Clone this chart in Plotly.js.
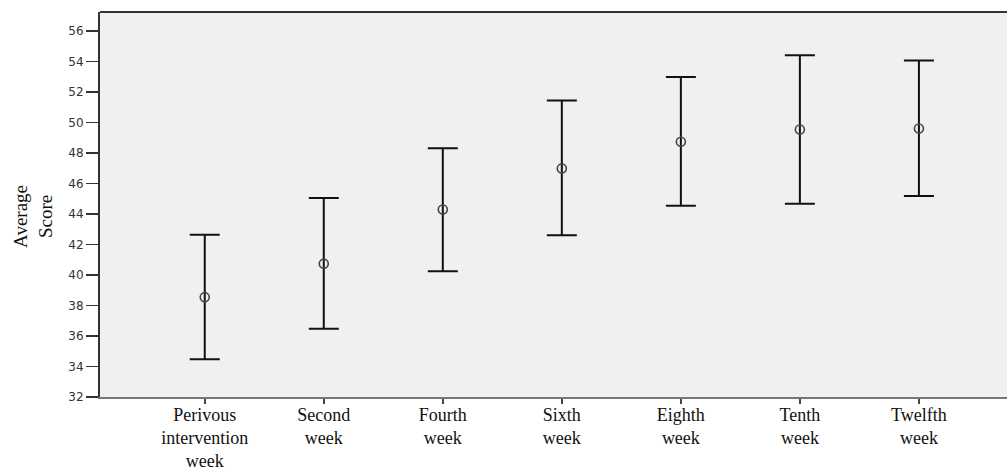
<!DOCTYPE html>
<html>
<head>
<meta charset="utf-8">
<script src="https://cdn.plot.ly/plotly-3.0.1.min.js"></script>
<style>html,body{margin:0;padding:0;background:#fff;}#chart{width:1007px;height:472px;}</style>
</head>
<body>
<div id="chart"></div>
<script>
const categories = ["Perivous<br>intervention<br>week", "Second<br>week", "Fourth<br>week", "Sixth<br>week", "Eighth<br>week", "Tenth<br>week", "Twelfth<br>week"];
const means = [38.55, 40.75, 44.3, 47.0, 48.75, 49.55, 49.62];
const upper = [42.64, 45.05, 48.32, 51.45, 53.0, 54.43, 54.08];
const lower = [34.48, 36.47, 40.25, 42.62, 44.55, 44.68, 45.18];
const yTicks = [32, 34, 36, 38, 40, 42, 44, 46, 48, 50, 52, 54, 56];

const xIdx = categories.map((c, i) => i);
const errPlus = upper.map((u, i) => u - means[i]);
const errMinus = lower.map((l, i) => means[i] - l);

const trace = {
  type: "scatter",
  mode: "markers",
  x: xIdx,
  y: means,
  marker: {symbol: "circle-open", size: 9, color: "#444", line: {width: 1.6, color: "#444"}},
  error_y: {type: "data", symmetric: false, array: errPlus, arrayminus: errMinus,
            color: "#111", thickness: 2, width: 15},
  hoverinfo: "skip",
  showlegend: false
};

const layout = {
  width: 1007, height: 472,
  margin: {l: 100, r: 0, t: 12, b: 75},
  paper_bgcolor: "#ffffff",
  plot_bgcolor: "#f0f0f0",
  xaxis: {
    range: [-0.88, 6.74],
    tickvals: xIdx, ticktext: categories,
    ticks: "outside", ticklen: 5, tickwidth: 2, tickcolor: "#444",
    ticklabelstandoff: -5,
    showline: true, linecolor: "#777", linewidth: 2,
    showgrid: false, zeroline: false,
    tickfont: {family: "Liberation Serif", size: 18, color: "#111"}
  },
  yaxis: {
    range: [32, 57.26],
    tickvals: yTicks,
    ticks: "outside", ticklen: 12, tickwidth: 1.5, tickcolor: "#333",
    showline: true, linecolor: "#333", linewidth: 2,
    showgrid: false, zeroline: false,
    tickfont: {family: "DejaVu Sans", size: 12, color: "#333"}
  },
  shapes: [
    {type: "line", xref: "paper", yref: "paper", x0: 0, x1: 1, y0: 1, y1: 1,
     line: {color: "#333", width: 2}}
  ],
  annotations: [
    {text: "Average<br>Score", xref: "paper", yref: "paper", x: -0.074, y: 0.47,
     xanchor: "center", yanchor: "middle",
     textangle: -90, showarrow: false,
     font: {family: "Liberation Serif", size: 19, color: "#111"}}
  ]
};

Plotly.newPlot("chart", [trace], layout, {displayModeBar: false, staticPlot: true});
</script>
</body>
</html>
